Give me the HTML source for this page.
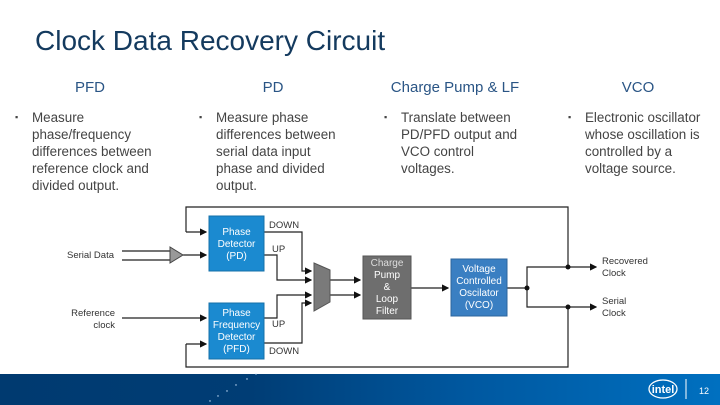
<!DOCTYPE html>
<html><head><meta charset="utf-8"><style>
body{margin:0;width:720px;height:405px;overflow:hidden;background:#fff;font-family:"Liberation Sans",sans-serif;position:relative}
.t{position:absolute;left:35px;top:25px;font-size:28px;color:#143a5e;white-space:nowrap}
.h{position:absolute;top:79px;font-size:15px;color:#2a5585;text-align:center;width:180px}
.b{position:absolute;top:109px;font-size:13.4px;line-height:17px;color:#444;width:128px}
.b:before{content:"▪";position:absolute;left:-17px;font-size:9px}
.bar{position:absolute;left:0;top:374px;width:720px;height:31px;background:linear-gradient(90deg,#003a70 0%,#003d75 35%,#0058a0 65%,#0070c0 100%)}
</style></head><body>
<div class="t">Clock Data Recovery Circuit</div>
<div class="h" style="left:0">PFD</div>
<div class="h" style="left:183px">PD</div>
<div class="h" style="left:365px">Charge Pump &amp; LF</div>
<div class="h" style="left:548px">VCO</div>
<div class="b" style="left:32px">Measure phase/frequency differences between reference clock and divided output.</div>
<div class="b" style="left:216px">Measure phase differences between serial data input phase and divided output.</div>
<div class="b" style="left:401px;width:124px">Translate between PD/PFD output and VCO control voltages.</div>
<div class="b" style="left:585px;width:126px">Electronic oscillator whose oscillation is controlled by a voltage source.</div>
<div class="bar"></div>
<svg width="720" height="405" style="position:absolute;left:0;top:0" font-family="Liberation Sans,sans-serif">
<defs><marker id="a" markerWidth="6" markerHeight="6" refX="5" refY="3" orient="auto"><path d="M0,0L6,3L0,6z" fill="#111"/></marker></defs>
<g stroke="#222" stroke-width="1.2" fill="none">
<polyline points="186,232 186,207 568,207 568,267"/>
<polyline points="186,344 186,367 568,367 568,307"/>
<line x1="186" y1="232" x2="206" y2="232" marker-end="url(#a)"/>
<line x1="186" y1="344" x2="206" y2="344" marker-end="url(#a)"/>
<line x1="122" y1="251" x2="171" y2="251"/><line x1="122" y1="260" x2="171" y2="260"/>
<line x1="183" y1="255" x2="206" y2="255" marker-end="url(#a)"/>
<line x1="122" y1="318" x2="206" y2="318" marker-end="url(#a)"/>
<polyline points="264,232 302,232 302,271 311,271" marker-end="url(#a)"/>
<polyline points="264,255 277,255 277,280 311,280" marker-end="url(#a)"/>
<polyline points="264,318 277,318 277,295 311,295" marker-end="url(#a)"/>
<polyline points="264,343 302,343 302,303 311,303" marker-end="url(#a)"/>
<line x1="330" y1="280" x2="360" y2="280" marker-end="url(#a)"/>
<line x1="330" y1="295" x2="360" y2="295" marker-end="url(#a)"/>
<line x1="411" y1="288" x2="448" y2="288" marker-end="url(#a)"/>
<line x1="507" y1="288" x2="527" y2="288"/>
<polyline points="595,267 527,267 527,307 595,307"/>
<line x1="590" y1="267" x2="596" y2="267" marker-end="url(#a)"/>
<line x1="590" y1="307" x2="596" y2="307" marker-end="url(#a)"/>
</g>
<polygon points="170,247 170,263 183,255" fill="#999" stroke="#444" stroke-width="1"/>
<polygon points="314,263 330,270 330,302 314,311" fill="#7a7a7a" stroke="#555"/>
<g fill="#111"><circle cx="527" cy="288" r="2.5"/><circle cx="568" cy="267" r="2.5"/><circle cx="568" cy="307" r="2.5"/></g>
<rect x="209" y="216" width="55" height="55" fill="#1b8ad0" stroke="#1670a8"/>
<rect x="209" y="303" width="55" height="56" fill="#1b8ad0" stroke="#1670a8"/>
<rect x="363" y="256" width="48" height="63" fill="#6e6e6e" stroke="#555"/>
<rect x="451" y="259" width="56" height="57" fill="#3a7fc2" stroke="#2c649c"/>
<g font-size="10" fill="#fff" text-anchor="middle">
<text x="236.5" y="235">Phase</text><text x="236.5" y="247">Detector</text><text x="236.5" y="259">(PD)</text>
<text x="236.5" y="316">Phase</text><text x="236.5" y="328">Frequency</text><text x="236.5" y="340">Detector</text><text x="236.5" y="352">(PFD)</text>
<text x="387" y="266" fill="#ddd">Charge</text><text x="387" y="278">Pump</text><text x="387" y="290">&amp;</text><text x="387" y="302">Loop</text><text x="387" y="314">Filter</text>
<text x="479" y="272">Voltage</text><text x="479" y="284">Controlled</text><text x="479" y="296">Oscilator</text><text x="479" y="308">(VCO)</text>
</g>
<g font-size="9.5" fill="#333">
<text x="67" y="258">Serial Data</text>
<text x="115" y="316" text-anchor="end">Reference</text><text x="115" y="328" text-anchor="end">clock</text>
<text x="269" y="228">DOWN</text><text x="272" y="252">UP</text>
<text x="272" y="327">UP</text><text x="269" y="354">DOWN</text>
<text x="602" y="264">Recovered</text><text x="602" y="276">Clock</text>
<text x="602" y="304">Serial</text><text x="602" y="316">Clock</text>
</g>
<g fill="#cfe6ff"><circle cx="210" cy="401" r=".7"/><circle cx="218" cy="396" r=".7"/><circle cx="227" cy="391" r=".7"/><circle cx="236" cy="385" r=".7"/><circle cx="247" cy="379" r=".7"/><circle cx="256" cy="374" r=".7"/></g>
<ellipse cx="663" cy="389" rx="14" ry="9" fill="none" stroke="#fff" stroke-width="1.3"/>
<text x="663" y="393" font-size="11" fill="#fff" text-anchor="middle" font-weight="bold">intel</text>
<line x1="686" y1="379" x2="686" y2="399" stroke="#fff" stroke-width="1"/>
<text x="704" y="394" font-size="9" fill="#fff" text-anchor="middle">12</text>
</svg>
</body></html>
